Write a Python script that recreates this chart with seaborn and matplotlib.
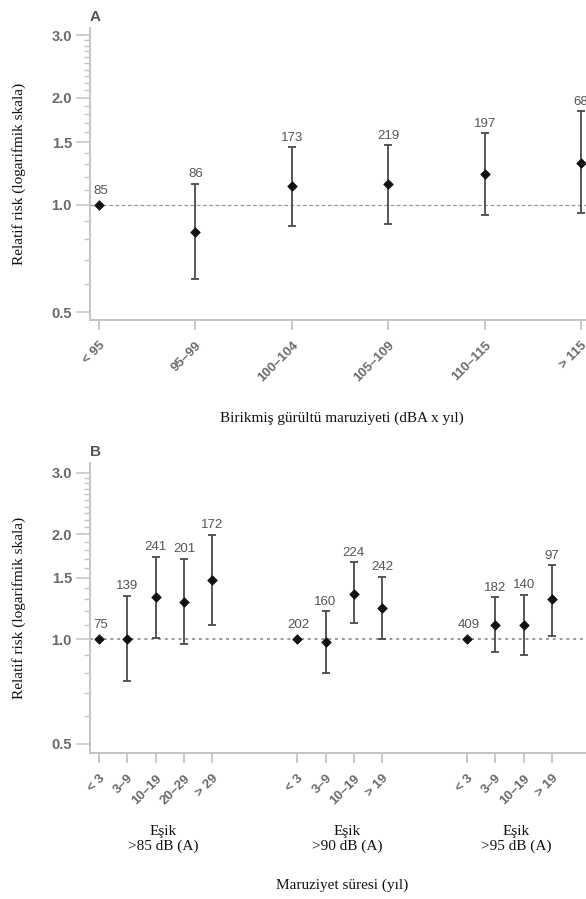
import numpy as np
import pandas as pd
import matplotlib
matplotlib.use("Agg")
import matplotlib.pyplot as plt
from matplotlib.ticker import FixedLocator, NullFormatter
import seaborn as sns

# ---------------- data ----------------
a_cats = ["< 95", "95–99", "100–104", "105–109", "110–115", "> 115"]
a_n = [85, 86, 173, 219, 197, 68]
a_rr = [1.0, 0.84, 1.13, 1.145, 1.22, 1.31]
a_lo = [np.nan, 0.62, 0.87, 0.886, 0.936, 0.948]
a_hi = [np.nan, 1.145, 1.45, 1.47, 1.59, 1.83]

b_groups = [">85 dB (A)", ">90 dB (A)", ">95 dB (A)"]
b1_cats = ["< 3", "3–9", "10–19", "20–29", "> 29"]
b1_n = [75, 139, 241, 201, 172]
b1_rr = [1.0, 1.0, 1.32, 1.28, 1.48]
b1_lo = [np.nan, 0.76, 1.01, 0.97, 1.10]
b1_hi = [np.nan, 1.33, 1.72, 1.70, 1.99]

b2_cats = ["< 3", "3–9", "10–19", "> 19"]
b2_n = [202, 160, 224, 242]
b2_rr = [1.0, 0.98, 1.35, 1.23]
b2_lo = [np.nan, 0.80, 1.11, 1.00]
b2_hi = [np.nan, 1.20, 1.66, 1.51]

b3_cats = ["< 3", "3–9", "10–19", "> 19"]
b3_n = [409, 182, 140, 97]
b3_rr = [1.0, 1.10, 1.10, 1.30]
b3_lo = [np.nan, 0.92, 0.90, 1.02]
b3_hi = [np.nan, 1.32, 1.34, 1.63]

y_major = [0.5, 1.0, 1.5, 2.0, 3.0]

# ---------------- style ----------------
sns.set_style("ticks")
plt.rcParams["font.family"] = ["Liberation Sans", "DejaVu Sans"]

SPINE = "#c4c4c4"
TICKC = "#6a6a6a"
SERIF = ["Liberation Serif", "DejaVu Serif"]

fig = plt.figure(figsize=(5.86, 8.99), dpi=100)
W, H = 586, 899
axA = fig.add_axes([90 / W, 1 - 320 / H, 496 / W, (320 - 28) / H])
axB = fig.add_axes([90 / W, 1 - 753 / H, 496 / W, (753 - 463) / H])


def build(cats, n, rr, lo, hi, pos):
    return pd.DataFrame({"cat": cats, "n": n, "rr": rr, "lo": lo, "hi": hi, "pos": pos})


dfA = build(a_cats, a_n, a_rr, a_lo, a_hi, np.arange(len(a_cats)))

gap = 3
frames = []
start = 0
group_centers = []
for cats, n, rr, lo, hi in [(b1_cats, b1_n, b1_rr, b1_lo, b1_hi),
                            (b2_cats, b2_n, b2_rr, b2_lo, b2_hi),
                            (b3_cats, b3_n, b3_rr, b3_lo, b3_hi)]:
    pos = np.arange(len(cats)) + start
    frames.append(build(cats, n, rr, lo, hi, pos))
    group_centers.append(pos.mean())
    start = pos[-1] + gap
dfB = pd.concat(frames, ignore_index=True)


def draw(ax, df, xlim, ylim, dash, dlw, letter):
    ax.set_yscale("log")
    ax.axhline(1.0, color="#9a9a9a", lw=dlw, ls=dash, zorder=1)
    ci = df.dropna(subset=["lo", "hi"])
    ax.errorbar(ci["pos"], ci["rr"], yerr=[ci["rr"] - ci["lo"], ci["hi"] - ci["rr"]],
                fmt="none", ecolor="#4a4a4a", elinewidth=1.3, capsize=3.2, capthick=1.3, zorder=2)
    sns.scatterplot(data=df, x="pos", y="rr", marker="D", color="#111111", s=24,
                    edgecolor="#111111", linewidth=0.5, ax=ax, legend=False, zorder=3)
    for _, r in df.iterrows():
        if np.isnan(r["hi"]):
            ax.annotate(str(r["n"]), (r["pos"], r["rr"]), xytext=(1, 6), textcoords="offset points",
                        ha="center", va="bottom", fontsize=9.5, color="#555555")
        else:
            ax.annotate(str(r["n"]), (r["pos"], r["hi"]), xytext=(0, 2.5), textcoords="offset points",
                        ha="center", va="bottom", fontsize=9.5, color="#555555")
    ax.set_xlim(*xlim)
    ax.set_ylim(*ylim)
    ax.yaxis.set_major_locator(FixedLocator(y_major))
    ax.set_yticklabels([f"{v:.1f}" for v in y_major])
    minors = [0.6, 0.7, 0.8, 0.9, 1.1, 1.2, 1.3, 1.4, 1.6, 1.7, 1.8, 1.9,
              2.1, 2.2, 2.3, 2.4, 2.5, 2.6, 2.7, 2.8, 2.9]
    ax.yaxis.set_minor_locator(FixedLocator(minors))
    ax.yaxis.set_minor_formatter(NullFormatter())
    ax.set_xticks(df["pos"])
    ax.set_xticklabels(df["cat"], rotation=45, ha="right", rotation_mode="anchor")
    ax.tick_params(axis="y", which="major", length=10, width=1.1, color=SPINE, labelcolor=TICKC,
                   labelsize=10.5, pad=3)
    ax.tick_params(axis="y", which="minor", length=4.5, width=1.0, color=SPINE)
    ax.tick_params(axis="x", length=7, width=1.3, color=SPINE, labelcolor=TICKC, labelsize=9.5, pad=7)
    for t in ax.get_xticklabels() + ax.get_yticklabels():
        t.set_fontweight("bold")
    sns.despine(ax=ax)
    for s in ("left", "bottom"):
        ax.spines[s].set_color(SPINE)
        ax.spines[s].set_linewidth(1.4)
    ax.set_xlabel("")
    ax.set_ylabel("Relatif risk (logarifmik skala)", family=SERIF, fontsize=11, color="#111111")
    ax.yaxis.set_label_coords(-64 / 496, 0.5)
    ax.text(0.0, 1.015, letter, transform=ax.transAxes, ha="left", va="bottom",
            fontsize=11, color="#555555", fontweight="bold")


draw(axA, dfA, (-0.093, 5.05), (0.475, 3.14), (0, (3, 2)), 0.9, "A")
draw(axB, dfB, (-0.32, 17.2), (0.471, 3.2), (0, (1.5, 2)), 1.4, "B")

fig.text(342 / W, 1 - 418 / H, "Birikmiş gürültü maruziyeti (dBA x yıl)", family=SERIF,
         fontsize=11, ha="center", va="center", color="#111111")

for cx, g in zip(group_centers, b_groups):
    axB.annotate("Eşik\n" + g, xy=(cx + 0.25, 0), xycoords=("data", "axes fraction"),
                 xytext=(0, -62), textcoords="offset points", ha="center", va="center",
                 family=SERIF, fontsize=11, color="#111111", linespacing=1.15)

fig.text(342 / W, 1 - 885 / H, "Maruziyet süresi (yıl)", family=SERIF,
         fontsize=11, ha="center", va="center", color="#111111")

fig.savefig("out.png", dpi=100)
